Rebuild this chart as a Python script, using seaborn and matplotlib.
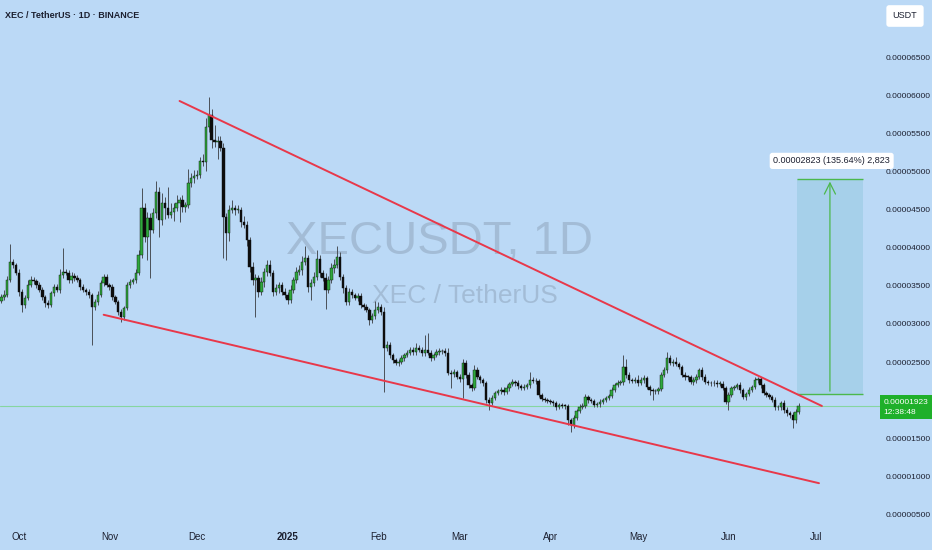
import matplotlib
matplotlib.use("Agg")
import matplotlib.pyplot as plt
import matplotlib.dates as mdates
from matplotlib.patches import Rectangle
import matplotlib.transforms as mtrans
import seaborn as sns
import pandas as pd

sns.set_style("white")
plt.rcParams['font.family'] = ['Liberation Sans', 'DejaVu Sans']

# -----------------------------
# Data (prices in units of 1e-8 USDT)
# -----------------------------
start_date = '2024-09-25'
first_open = 3300

closes = [
    3353, 3380, 3576, 3813, 3773, 3668, 3419, 3248, 3340, 3511,
    3576, 3563, 3511, 3445, 3353, 3275, 3248, 3406, 3485, 3445,
    3642, 3681, 3668, 3576, 3629, 3603, 3576, 3485, 3445, 3419,
    3380, 3222, 3288, 3380, 3537, 3616, 3511, 3485, 3353, 3288,
    3157, 3091, 3209, 3511, 3550, 3576, 3668, 3904, 4521, 4140,
    4390, 4232, 4455, 4731, 4364, 4587, 4521, 4429, 4468, 4521,
    4587, 4626, 4534, 4560, 4849, 4915, 4941, 4954, 5138, 5124,
    5584, 5741, 5413, 5387, 5400, 5308, 4403, 4193, 4495, 4521,
    4495, 4500, 4337, 4298, 4101, 3747, 3576, 3603, 3419, 3550,
    3681, 3773, 3668, 3419, 3471, 3511, 3419, 3380, 3314, 3445,
    3576, 3681, 3708, 3813, 3865, 3485, 3537, 3616, 3852, 3668,
    3603, 3445, 3576, 3734, 3773, 3878, 3616, 3471, 3288, 3419,
    3380, 3340, 3367, 3248, 3222, 3183, 3052, 3104, 3183, 3222,
    3157, 2684, 2724, 2592, 2527, 2487, 2501, 2553, 2592, 2619,
    2658, 2632, 2684, 2658, 2619, 2658, 2619, 2553, 2592, 2632,
    2640, 2645, 2619, 2356, 2343, 2369, 2304, 2278, 2487, 2330,
    2199, 2159, 2396, 2304, 2264, 2225, 2002, 1963, 2028, 2094,
    2120, 2133, 2107, 2159, 2212, 2238, 2225, 2186, 2159, 2173,
    2199, 2264, 2251, 2245, 2068, 2015, 2002, 1989, 1976, 1963,
    1910, 1936, 1923, 1920, 1740, 1674, 1766, 1858, 1910, 1923,
    2041, 2002, 1989, 1936, 1950, 1976, 2002, 2028, 2054, 2133,
    2199, 2225, 2238, 2435, 2330, 2264, 2251, 2264, 2225, 2264,
    2291, 2173, 2133, 2120, 2115, 2146, 2330, 2396, 2553, 2487,
    2501, 2474, 2435, 2330, 2304, 2300, 2238, 2264, 2304, 2396,
    2304, 2238, 2225, 2220, 2228, 2212, 2215, 2159, 1976, 2068,
    2159, 2173, 2199, 2133, 2041, 2081, 2133, 2173, 2264, 2278,
    2199, 2094, 2068, 2041, 2002, 1910, 1905, 1963, 1871, 1832,
    1805, 1740, 1845, 1923,
]

wick_up = [
    40, 60, 50, 240, 40, 30, 50, 40, 40, 60,
    50, 40, 30, 40, 40, 30, 40, 30, 40, 40,
    80, 310, 40, 40, 50, 40, 40, 30, 40, 30,
    40, 30, 40, 50, 40, 40, 40, 30, 40, 30,
    30, 40, 30, 40, 40, 30, 50, 60, 260, 60,
    80, 60, 70, 150, 60, 130, 80, 270, 120, 60,
    100, 40, 60, 40, 180, 60, 80, 60, 50, 90,
    120, 230, 80, 200, 60, 70, 60, 50, 70, 110,
    40, 60, 40, 80, 50, 40, 60, 50, 40, 60,
    50, 60, 60, 40, 50, 40, 40, 50, 40, 60,
    40, 60, 60, 80, 160, 40, 50, 60, 120, 50,
    40, 60, 50, 70, 80, 150, 60, 40, 40, 50,
    40, 30, 40, 40, 30, 40, 30, 40, 120, 60,
    40, 60, 50, 40, 30, 30, 40, 40, 30, 40,
    40, 40, 60, 40, 40, 200, 220, 40, 30, 40,
    40, 30, 40, 60, 40, 40, 30, 40, 50, 40,
    40, 30, 60, 40, 30, 30, 30, 40, 40, 30,
    30, 40, 40, 40, 30, 40, 30, 40, 30, 40,
    30, 100, 40, 40, 30, 30, 30, 30, 30, 30,
    30, 30, 30, 30, 30, 30, 40, 30, 40, 40,
    40, 30, 30, 30, 30, 40, 30, 30, 30, 40,
    30, 40, 30, 160, 100, 40, 30, 40, 60, 40,
    40, 30, 30, 30, 30, 30, 40, 40, 80, 40,
    40, 60, 30, 30, 40, 30, 30, 40, 40, 30,
    40, 40, 30, 30, 30, 30, 30, 40, 30, 40,
    30, 30, 30, 40, 30, 30, 40, 30, 40, 30,
    30, 30, 30, 30, 30, 40, 30, 30, 40, 40,
    30, 40, 40, 40,
]

wick_dn = [
    30, 40, 30, 30, 40, 30, 50, 90, 40, 30,
    30, 40, 40, 30, 40, 50, 40, 30, 40, 30,
    40, 40, 30, 40, 40, 40, 30, 40, 30, 40,
    40, 500, 40, 40, 30, 40, 30, 40, 40, 30,
    40, 60, 40, 30, 40, 30, 40, 30, 40, 60,
    300, 630, 40, 60, 230, 60, 150, 40, 40, 120,
    40, 250, 60, 70, 40, 50, 60, 40, 40, 50,
    120, 60, 100, 60, 220, 40, 540, 350, 100, 40,
    60, 40, 70, 40, 80, 60, 60, 480, 70, 40,
    60, 50, 40, 50, 40, 60, 40, 40, 50, 40,
    40, 40, 40, 60, 40, 60, 170, 40, 40, 50,
    40, 250, 40, 40, 60, 40, 40, 60, 40, 40,
    40, 30, 40, 40, 40, 30, 60, 40, 40, 40,
    40, 580, 40, 40, 40, 30, 40, 30, 40, 30,
    30, 40, 40, 30, 40, 40, 30, 40, 30, 30,
    40, 30, 40, 30, 190, 40, 30, 40, 250, 40,
    40, 40, 30, 30, 40, 40, 40, 90, 30, 30,
    30, 40, 40, 30, 40, 30, 40, 40, 30, 30,
    30, 40, 30, 30, 30, 30, 30, 30, 30, 40,
    40, 30, 30, 40, 60, 90, 40, 30, 30, 30,
    30, 40, 30, 30, 30, 40, 30, 30, 30, 30,
    30, 30, 30, 40, 40, 40, 30, 30, 40, 30,
    40, 30, 60, 120, 40, 30, 30, 30, 40, 30,
    40, 30, 30, 30, 40, 30, 30, 40, 40, 30,
    40, 30, 30, 30, 30, 40, 30, 30, 30, 100,
    30, 30, 30, 40, 30, 40, 30, 30, 30, 40,
    40, 30, 30, 30, 30, 40, 30, 30, 40, 40,
    40, 100, 40, 30,
]

# trendlines drawn on the chart: (dates, prices)
upper_line_dates = ['2024-11-25', '2025-07-03']
upper_line_prices = [5925, 1923]
lower_line_dates = ['2024-10-30', '2025-07-02']
lower_line_prices = [3120, 910]

# long position projection
proj_end_date = '2025-07-17'
proj_base = 2081
proj_gain = 2823
proj_label = "0.00002823 (135.64%) 2,823"

price_ticks = [500, 1000, 1500, 2000, 2500, 3000, 3500, 4000, 4500, 5000, 5500, 6000, 6500]
month_ticks = ['2024-10-01', '2024-11-01', '2024-12-01', '2025-01-01', '2025-02-01',
               '2025-03-01', '2025-04-01', '2025-05-01', '2025-06-01', '2025-07-01']
month_labels = ['Oct', 'Nov', 'Dec', '2025', 'Feb', 'Mar', 'Apr', 'May', 'Jun', 'Jul']

title = "XEC / TetherUS · 1D · BINANCE"
timer = "12:38:48"

# -----------------------------
# Build OHLC table
# -----------------------------
df = pd.DataFrame({
    'date': pd.date_range(start_date, periods=len(closes), freq='D'),
    'close': closes,
})
df['open'] = df['close'].shift(1).fillna(first_open)
df['high'] = df[['open', 'close']].max(axis=1) + pd.Series(wick_up)
df['low'] = df[['open', 'close']].min(axis=1) - pd.Series(wick_dn)
df['x'] = mdates.date2num(df['date'])
df['up'] = df['close'] >= df['open']

BG = '#bbd9f6'
UP = '#2fa83c'
DOWN = '#0d0d0d'
TXT = '#1c2030'

# -----------------------------
# Figure
# -----------------------------
fig = plt.figure(figsize=(9.32, 5.5), dpi=100, facecolor=BG)
ax = fig.add_axes([0, 30 / 550, 880 / 932, 520 / 550], facecolor=BG)

x0 = df['x'].iloc[0]
ax.set_xlim(x0 - 0.5, x0 + 300.9)
ax.set_ylim(427, 7250)

# wicks
ax.vlines(df['x'], df['low'], df['high'], color='#4a5058', linewidth=0.7, zorder=3)
# bodies
body_h = (df['close'] - df['open']).abs().clip(lower=10)
body_b = df[['open', 'close']].min(axis=1)
ax.bar(df['x'], body_h, bottom=body_b, width=0.82,
       color=df['up'].map({True: UP, False: DOWN}),
       edgecolor='#0d0d0d', linewidth=0.3, zorder=4)

# current price line
last = df['close'].iloc[-1]
ax.axhline(last, color='#86d6a0', linewidth=0.8, zorder=2)

# trendlines
ax.plot(mdates.date2num(pd.to_datetime(upper_line_dates)), upper_line_prices,
        color='#e8384a', linewidth=1.4, zorder=5)
ax.plot(mdates.date2num(pd.to_datetime(lower_line_dates)), lower_line_prices,
        color='#e8384a', linewidth=1.4, zorder=5)

# projection box
px0 = df['x'].iloc[-1] - 0.5
px1 = mdates.date2num(pd.Timestamp(proj_end_date))
ax.add_patch(Rectangle((px0, proj_base), px1 - px0, proj_gain,
                       facecolor='#a6d0ea', edgecolor='none', zorder=1))
ax.hlines([proj_base, proj_base + proj_gain], px0, px1, color='#4cb84c', linewidth=1.0, zorder=2)
pxc = (px0 + px1) / 2
ax.annotate('', xy=(pxc, proj_base + proj_gain), xytext=(pxc, proj_base),
            arrowprops=dict(arrowstyle='->,head_length=0.8,head_width=0.4',
                            color='#4cb84c', lw=0.9), zorder=2)
ax.text(pxc + 0.6, proj_base + proj_gain + 235, proj_label, fontsize=6.5, color=TXT,
        ha='center', va='center', clip_on=False, zorder=6,
        bbox=dict(boxstyle='round,pad=0.4,rounding_size=0.3', fc='white', ec='none'))

# watermark
ax.text(0.5, 0.535, "XECUSDT, 1D", transform=ax.transAxes, fontsize=34,
        color='#93aac2', alpha=0.6, ha='center', va='center', zorder=0)
ax.text(0.528, 0.43, "XEC / TetherUS", transform=ax.transAxes, fontsize=19,
        color='#93aac2', alpha=0.6, ha='center', va='center', zorder=0)

# axes styling
sns.despine(ax=ax, left=True, bottom=True, right=True, top=True)
ax.grid(False)
ax.yaxis.tick_right()
ax.set_yticks(price_ticks)
ax.set_yticklabels([f"{v / 1e8:.8f}" for v in price_ticks])
ax.tick_params(axis='y', length=0, pad=4, labelsize=6, labelcolor=TXT)
ax.set_xticks(mdates.date2num(pd.to_datetime(month_ticks)))
ax.set_xticklabels(month_labels)
ax.tick_params(axis='x', length=0, pad=9, labelsize=7, labelcolor=TXT)
for lbl in ax.get_xticklabels():
    if lbl.get_text() == '2025':
        lbl.set_fontweight('bold')

# last price tag (covers the 0.00002000 label, as on the original chart)
tr = mtrans.blended_transform_factory(ax.transAxes, ax.transData)
ax.text(1.004, last + 95, f"{last / 1e8:.8f}\n{timer}", transform=tr,
        fontsize=6, color='white', ha='left', va='top', linespacing=1.6,
        clip_on=False, zorder=7,
        bbox=dict(boxstyle='square,pad=0.4', fc='#1fb02a', ec='none'))

# title and currency badge
fig.text(5 / 932, 1 - 16 / 550, title, fontsize=6.5, fontweight='bold', color=TXT,
         ha='left', va='center')
fig.text(905 / 932, 1 - 16 / 550, "USDT", fontsize=6.5, color=TXT, ha='center', va='center',
         bbox=dict(boxstyle='round,pad=0.7,rounding_size=0.3', fc='white', ec='none'))

fig.savefig('out.png', dpi=100, facecolor=BG)
